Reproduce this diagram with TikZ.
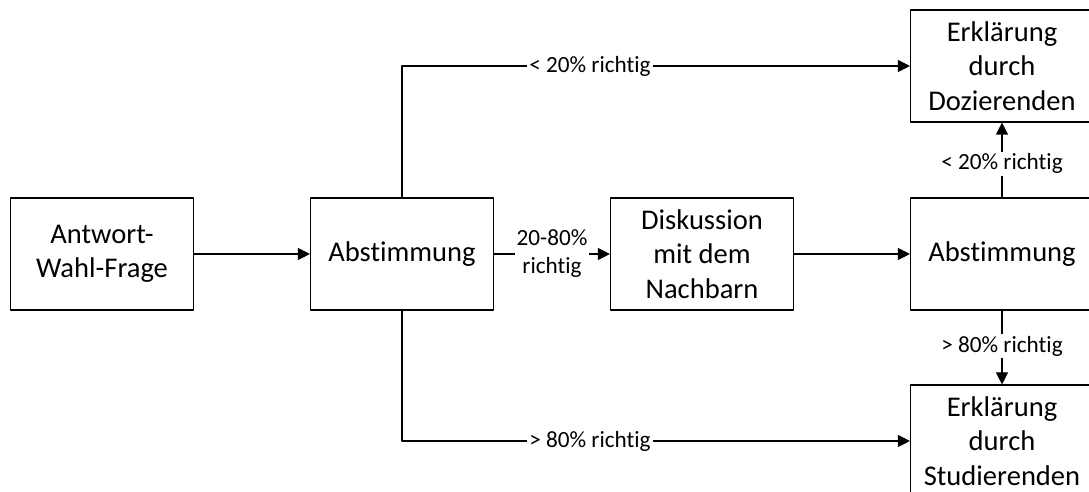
\documentclass[tikz,border=0pt]{standalone}
\usepackage{fontspec}
\setmainfont{Carlito}[Ligatures=NoCommon]
\usetikzlibrary{arrows.meta}

\begin{document}
\begin{tikzpicture}[line cap=round, line join=round]
  \def\w{4.575} % Breite der Kästen
  \def\h{2.8}   % Höhe der Kästen
  \tikzset{
    kasten/.style={draw=black, line width=0.8pt, minimum width=\w cm, minimum height=\h cm,
      align=center, inner sep=2pt, font=\fontsize{20.3pt}{24.6pt}\selectfont},
    pfeil/.style={line width=0.8pt, draw=black, -{Triangle[length=3mm, width=3mm]}},
    lbl/.style={fill=white, inner sep=1.5pt, align=center, font=\fontsize{16.5pt}{20pt}\selectfont}
  }
  \useasboundingbox (0, 0) rectangle (27.225, 12.3);

  \node[kasten] (frage) at (2.55, 5.95) {Antwort-\\Wahl-Frage};
  \node[kasten] (abst1) at (10.05, 5.95) {Abstimmung};
  \node[kasten] (disk) at (17.55, 5.95) {Diskussion\\mit dem\\Nachbarn};
  \node[kasten] (abst2) at (25.05, 5.95) {Abstimmung};
  \node[kasten] (dozi) at (25.05, 10.65) {Erklärung\\durch\\Dozierenden};
  \node[kasten] (stud) at (25.05, 1.275) {Erklärung\\durch\\Studierenden};

  \draw[pfeil] (frage) -- (abst1);
  \draw[pfeil] (abst1) -- node[lbl] {20-80\%\\richtig} (disk);
  \draw[pfeil] (disk) -- (abst2);
  \draw[pfeil] (abst1.north) |- node[lbl, pos=0.685] {< 20\% richtig} (dozi.west);
  \draw[pfeil] (abst1.south) |- node[lbl, pos=0.685] {> 80\% richtig} (stud.west);
  \draw[pfeil] (abst2) -- node[lbl, pos=0.45] {< 20\% richtig} (dozi);
  \draw[pfeil] (abst2) -- node[lbl, pos=0.48] {> 80\% richtig} (stud);

\end{tikzpicture}
\end{document}
